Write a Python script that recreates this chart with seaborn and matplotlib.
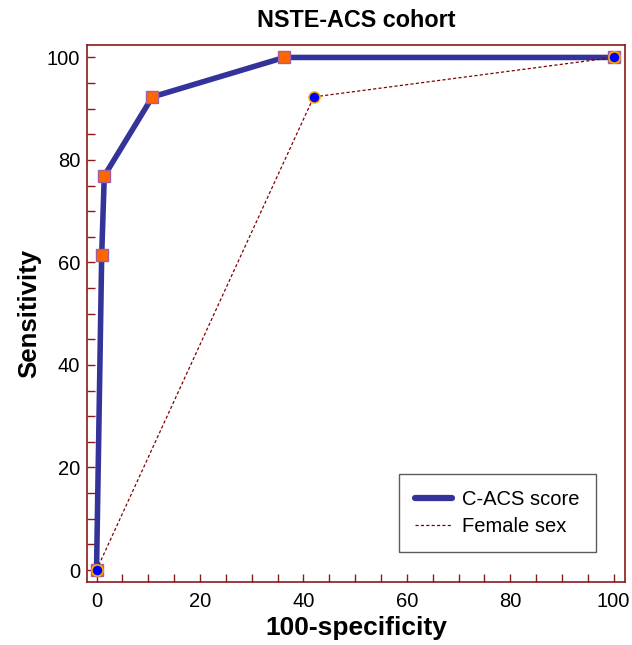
import seaborn as sns
import pandas as pd
import matplotlib.pyplot as plt
from matplotlib.ticker import MultipleLocator
from matplotlib.lines import Line2D

# ROC points
cacs_fpr = [0, 1.0, 1.5, 10.8, 36.3, 100]
cacs_sens = [0, 61.5, 76.9, 92.3, 100, 100]
female_fpr = [0, 42.0, 100]
female_sens = [0, 92.3, 100]

cacs = pd.DataFrame({'fpr': cacs_fpr, 'sens': cacs_sens})
female = pd.DataFrame({'fpr': female_fpr, 'sens': female_sens})

sns.set_style('white')
plt.rcParams['font.family'] = ['Liberation Sans', 'DejaVu Sans']
plt.rcParams['text.color'] = 'black'
plt.rcParams['axes.labelcolor'] = 'black'

fig = plt.figure(figsize=(6.32, 6.45), dpi=100)
ax = fig.add_axes([0.138, 0.098, 0.851, 0.832])

frame = '#8B1A1A'
blue = '#333399'
dash_red = '#800000'
dash = (0, (2.5, 1.8))

sns.lineplot(data=cacs, x='fpr', y='sens', ax=ax, sort=False, estimator=None,
             color=blue, linewidth=4, marker='s', markersize=8.5,
             markerfacecolor='#FF6600', markeredgecolor='#A060A0',
             markeredgewidth=1, legend=False, zorder=3)
sns.lineplot(data=female, x='fpr', y='sens', ax=ax, sort=False, estimator=None,
             color=dash_red, linewidth=0.9, linestyle=dash, marker='o',
             markersize=8, markerfacecolor='#0000FF', markeredgecolor='#FFB000',
             markeredgewidth=1.1, legend=False, zorder=4)

ax.set_xlim(-1.8, 102.2)
ax.set_ylim(-2.3, 102.4)
ax.xaxis.set_major_locator(MultipleLocator(20))
ax.xaxis.set_minor_locator(MultipleLocator(5))
ax.yaxis.set_major_locator(MultipleLocator(20))
ax.yaxis.set_minor_locator(MultipleLocator(5))
ax.tick_params(which='both', direction='in', bottom=True, left=True,
               color=frame, length=6, width=1,
               labelsize=14.5, labelcolor='black')
ax.tick_params(axis='x', pad=7)
ax.tick_params(axis='y', pad=5)

for s in ax.spines.values():
    s.set_color(frame)
    s.set_linewidth(1.2)

ax.set_xlabel('100-specificity', fontsize=19, fontweight='bold', labelpad=4)
ax.set_ylabel('Sensitivity', fontsize=18.5, fontweight='bold', labelpad=4)
ax.set_title('NSTE-ACS cohort', fontsize=16.8, fontweight='bold', pad=13)

handles = [Line2D([], [], color=blue, linewidth=4.5),
           Line2D([], [], color=dash_red, linewidth=0.9, linestyle=dash)]
leg = ax.legend(handles, ['C-ACS score', 'Female sex'], loc='lower right',
                bbox_to_anchor=(0.946, 0.056), fontsize=14.5, frameon=True,
                fancybox=False, handlelength=1.85, handletextpad=0.5,
                borderpad=0.8, labelspacing=0.38, borderaxespad=0)
leg.get_frame().set_edgecolor('#333333')
leg.get_frame().set_linewidth(1)

fig.savefig('out.png', dpi=100)
